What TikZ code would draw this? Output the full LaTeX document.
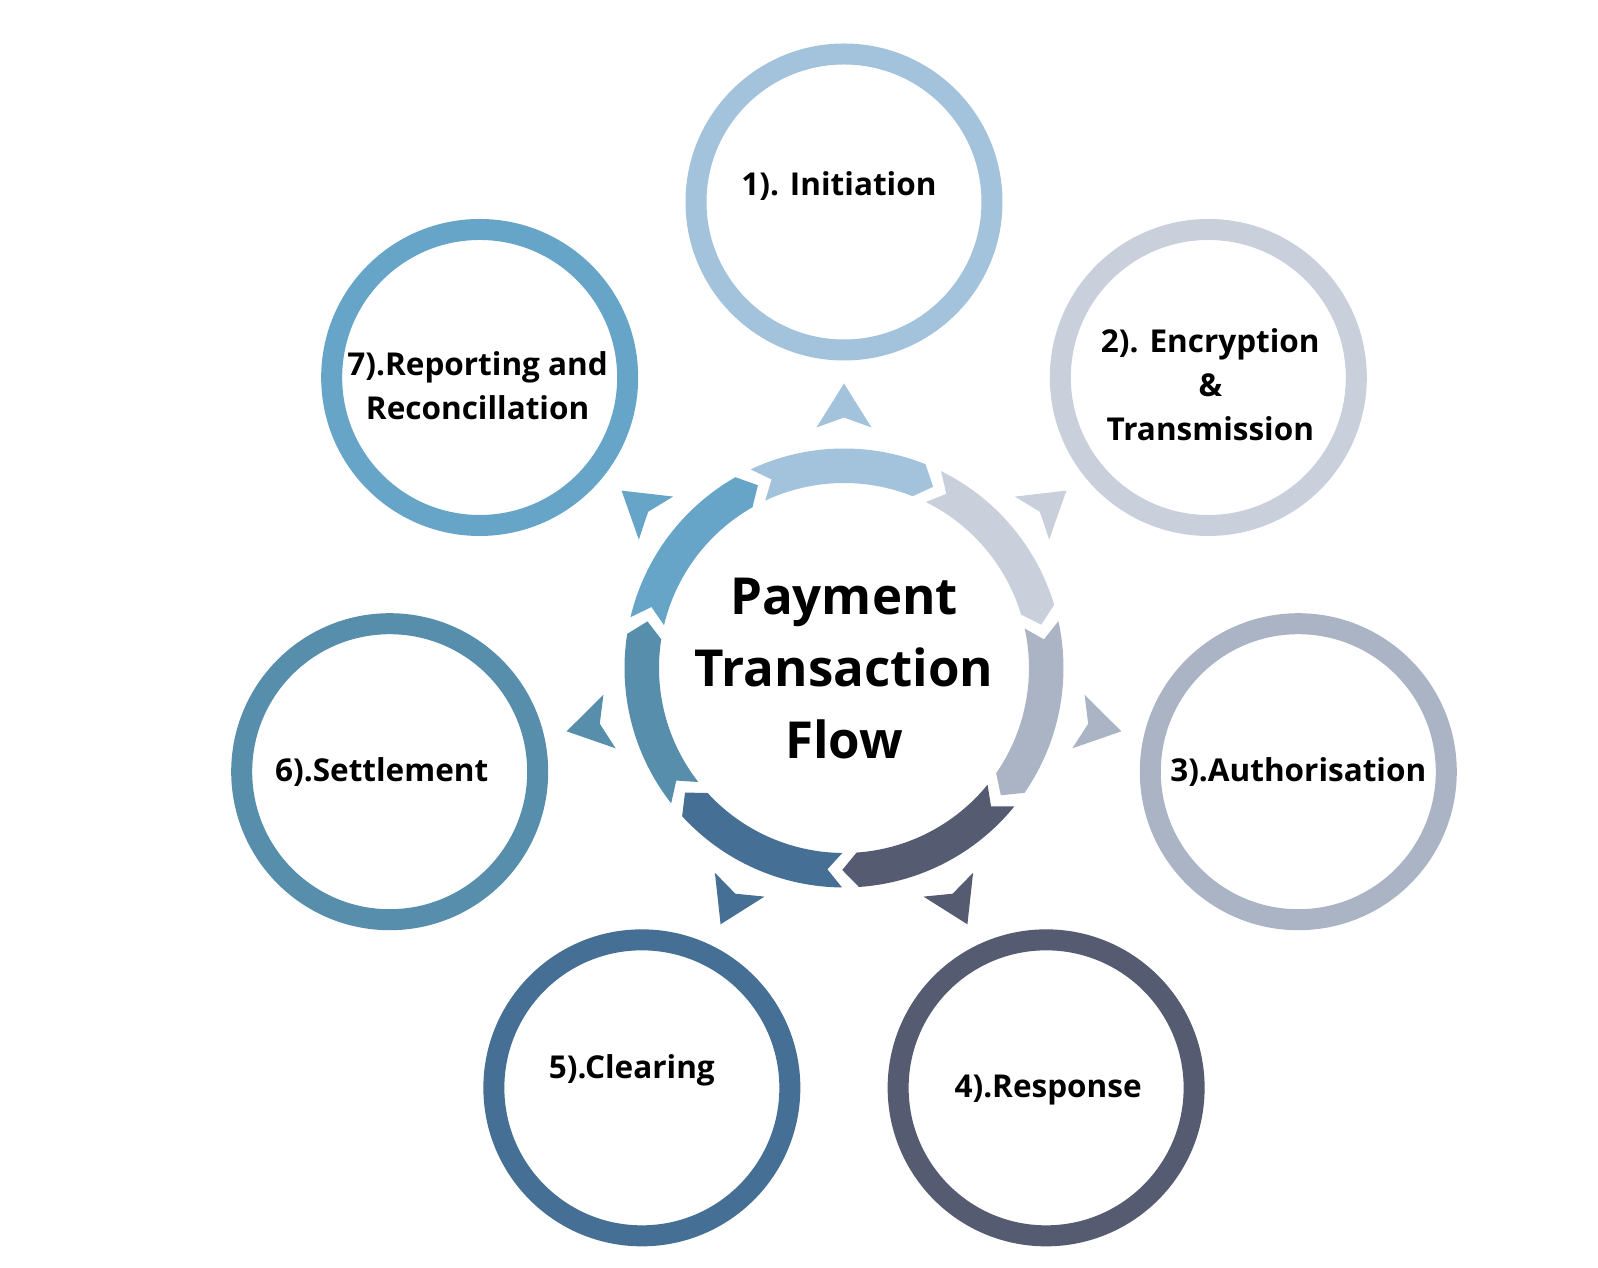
\documentclass[tikz,border=0pt]{standalone}
\usepackage{fontspec}
\setmainfont{Open Sans}
\definecolor{stepOne}{HTML}{A3C2DC}
\definecolor{stepTwo}{HTML}{C9D0DB}
\definecolor{stepThree}{HTML}{AAB4C4}
\definecolor{stepFour}{HTML}{555B70}
\definecolor{stepFive}{HTML}{456F95}
\definecolor{stepSix}{HTML}{568EAB}
\definecolor{stepSeven}{HTML}{67A5C8}

\begin{document}
\begin{tikzpicture}[x=1pt, y=1pt,
    stepcircle/.style={circle, line width=21pt, fill=white, minimum size=296pt, inner sep=0pt},
    steptext/.style={font=\bfseries\fontsize{31.5}{44}\selectfont, align=center, inner sep=0pt},
    hubtext/.style={font=\bfseries\fontsize{51}{72}\selectfont, align=center, inner sep=0pt}
  ]
    \useasboundingbox (-844,-600) rectangle (754,668);
    % ring of arrows and pointers
    \foreach \c/\col in {90/stepOne, 38.57/stepTwo, -12.86/stepThree, -64.29/stepFour,
                         -115.71/stepFive, -167.14/stepSix, 141.43/stepSeven}{
      \fill[\col] (\c+25.2:219.5) arc[start angle=\c+25.2, end angle=\c-21.8, radius=219.5pt]
        -- (\c-26.2:202) -- (\c-21.8:185)
        arc[start angle=\c-21.8, end angle=\c+25.2, radius=185pt]
        -- (\c+21:202) -- cycle;
      \fill[\col, rotate=\c] (284.5,0) -- (240.5,27.5) -- (250.5,0) -- (240.5,-27.5) -- cycle;
    }
    \node[hubtext] (flow) at (0,-1) {Payment\\Transaction\\Flow};
    % outer steps
    \node[stepcircle, draw=stepOne] (init) at (90:466) {};
    \node[stepcircle, draw=stepTwo] (encrypt) at (38.57:466) {};
    \node[stepcircle, draw=stepThree] (auth) at (-12.86:466) {};
    \node[stepcircle, draw=stepFour] (resp) at (-64.29:466) {};
    \node[stepcircle, draw=stepFive] (clear) at (-115.71:466) {};
    \node[stepcircle, draw=stepSix] (settle) at (-167.14:466) {};
    \node[stepcircle, draw=stepSeven] (report) at (141.43:466) {};
    \node[steptext] (init-t) at ([shift={(-5,16)}]init.center) {1). Initiation};
    \node[steptext] (encrypt-t) at ([shift={(2,-7)}]encrypt.center) {2). Encryption\\\&\\Transmission};
    \node[steptext] (auth-t) at (auth.center) {3).Authorisation};
    \node[steptext] (resp-t) at ([shift={(2,-2)}]resp.center) {4).Response};
    \node[steptext] (clear-t) at ([shift={(-10,18)}]clear.center) {5).Clearing};
    \node[steptext] (settle-t) at ([shift={(-8,0)}]settle.center) {6).Settlement};
    \node[steptext] (report-t) at ([shift={(-2,-8)}]report.center) {7).Reporting and\\Reconcillation};
  \end{tikzpicture}
\end{document}
